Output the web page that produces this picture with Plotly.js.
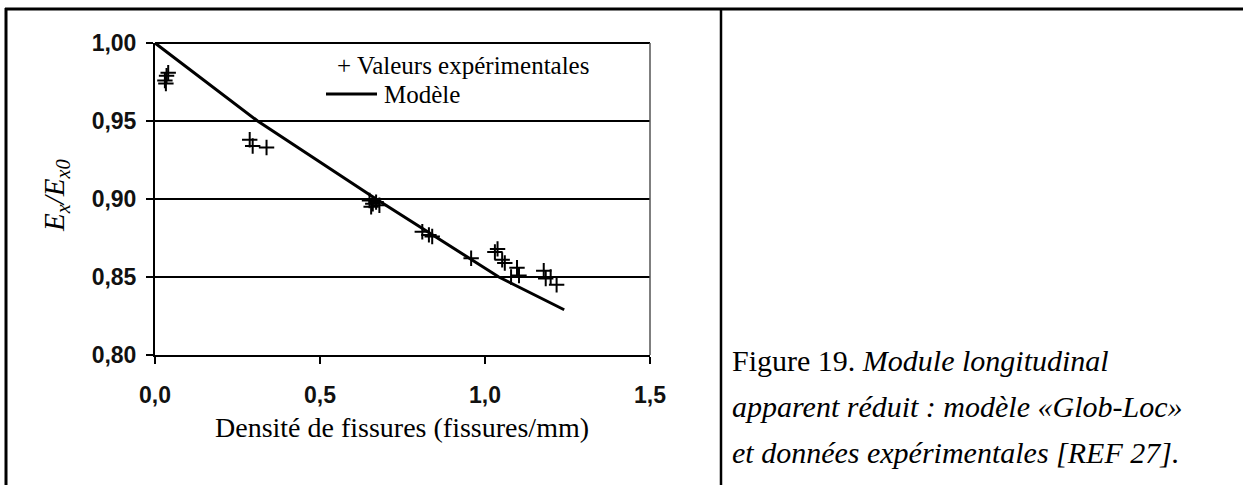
<!DOCTYPE html>
<html><head><meta charset="utf-8">
<script src="https://cdn.plot.ly/plotly-3.0.1.min.js"></script>
<style>html,body{margin:0;padding:0;background:#fff}#chart{width:1243px;height:485px}</style>
</head><body><div id="chart"></div>
<script>
// ---- data ----
const expX = [0.030, 0.035, 0.040, 0.033,
              0.287, 0.296, 0.338,
              0.650, 0.660, 0.670, 0.680, 0.655,
              0.810, 0.830, 0.840,
              0.958,
              1.030, 1.038, 1.052, 1.060, 1.097, 1.079, 1.103,
              1.178, 1.184, 1.199, 1.217];
const expY = [0.976, 0.979, 0.981, 0.974,
              0.938, 0.934, 0.933,
              0.899, 0.897, 0.898, 0.896, 0.895,
              0.879, 0.877, 0.876,
              0.862,
              0.866, 0.868, 0.861, 0.859, 0.856, 0.850, 0.851,
              0.854, 0.849, 0.850, 0.845];
const modelX = [0, 0.311, 0.67, 0.85, 1.042, 1.24];
const modelY = [1.0, 0.95, 0.90, 0.876, 0.85, 0.829];
const xTickVals = [0, 0.5, 1.0, 1.5];
const xTickText = ['0,0', '0,5', '1,0', '1,5'];
const yTickVals = [0.80, 0.85, 0.90, 0.95, 1.00];
const yTickText = ['0,80', '0,85', '0,90', '0,95', '1,00'];
const seriesNames = ['Valeurs expérimentales', 'Modèle'];
const xTitle = 'Densité de fissures (fissures/mm)';
const yTitle = '<i>E<sub>x</sub>/E<sub>x0</sub></i>';
const captionLines = ['Figure 19. <i>Module longitudinal</i>',
                      '<i>apparent réduit : modèle «Glob-Loc»</i>',
                      '<i>et données expérimentales [REF 27].</i>'];

// ---- layout geometry (pixels) ----
const W = 1243, H = 485, ML = 155, MR = 593, MT = 43, MB = 130;
const PW = W - ML - MR, PH = H - MT - MB;
const px = v => (v - ML) / PW;
const py = v => (H - MB - v) / PH;
const serif = 'Liberation Serif, Times New Roman, serif';
const sans = 'Liberation Sans, Arial, sans-serif';

const traces = [
  {x: modelX, y: modelY, type: 'scatter', mode: 'lines', name: seriesNames[1],
   line: {color: '#000', width: 3}, hoverinfo: 'skip'},
  {x: expX, y: expY, type: 'scatter', mode: 'markers', name: seriesNames[0],
   marker: {symbol: 'cross-thin', size: 11, color: '#000', line: {color: '#000', width: 2}}}
];

const lineShape = (x0, y0, x1, y1, w, c) => ({type: 'line', xref: 'paper', yref: 'paper',
  x0: x0, y0: y0, x1: x1, y1: y1, line: {color: c || '#000', width: w}});

const shapes = [
  // outer table frame
  lineShape(px(5), py(9), px(1243), py(9), 3),
  lineShape(px(6), py(8), px(6), py(485), 3),
  lineShape(px(721), py(8), px(721), py(485), 2.5),
  // plot frame top and right
  lineShape(0, 1, 1, 1, 1.8),
  lineShape(1, 0, 1, 1, 1.5, '#555'),
  // legend line sample
  lineShape(px(326), py(94), px(377), py(94), 3)
];

const annotations = [
  {xref: 'paper', yref: 'paper', x: px(336), y: py(65), xanchor: 'left', yanchor: 'middle', borderpad: 0,
   text: '+ ' + seriesNames[0], showarrow: false, font: {family: serif, size: 25, color: '#000'}},
  {xref: 'paper', yref: 'paper', x: px(383), y: py(95), xanchor: 'left', yanchor: 'middle', borderpad: 0,
   text: seriesNames[1], showarrow: false, font: {family: serif, size: 25, color: '#000'}},
  {xref: 'paper', yref: 'paper', x: px(402), y: py(427), xanchor: 'center', yanchor: 'middle',
   text: xTitle, showarrow: false, font: {family: serif, size: 28, color: '#000'}},
  {xref: 'paper', yref: 'paper', x: px(56), y: py(196), xanchor: 'center', yanchor: 'middle',
   text: yTitle, textangle: -90, showarrow: false, font: {family: serif, size: 29, color: '#000'}}
];
const capY = [360, 406, 452];
captionLines.forEach((t, i) => annotations.push({xref: 'paper', yref: 'paper', x: px(731), y: py(capY[i]),
  xanchor: 'left', yanchor: 'middle', text: t, showarrow: false, borderpad: 0,
  font: {family: serif, size: 30, color: '#000'}}));

const tickFont = {family: sans, size: 23, color: '#111', weight: 'bold'};
const layout = {
  width: W, height: H,
  margin: {l: ML, r: MR, t: MT, b: MB, pad: 0},
  paper_bgcolor: '#fff', plot_bgcolor: '#fff',
  showlegend: false,
  xaxis: {range: [0, 1.5], tickvals: xTickVals, ticktext: xTickText, showgrid: false, zeroline: false,
          showline: true, linecolor: '#000', linewidth: 2, ticks: 'outside', ticklen: 7, tickwidth: 1.5,
          tickcolor: '#000', ticklabelstandoff: 11, tickfont: tickFont},
  yaxis: {range: [0.8, 1.0], tickvals: yTickVals, ticktext: yTickText, showgrid: true, gridcolor: '#000',
          gridwidth: 1.8, zeroline: false, showline: true, linecolor: '#000', linewidth: 2,
          ticks: 'outside', ticklen: 7, tickwidth: 1.5, tickcolor: '#000', ticklabelstandoff: 5,
          tickfont: tickFont},
  shapes: shapes,
  annotations: annotations
};

Plotly.newPlot('chart', traces, layout, {staticPlot: true, displayModeBar: false});
</script></body></html>
